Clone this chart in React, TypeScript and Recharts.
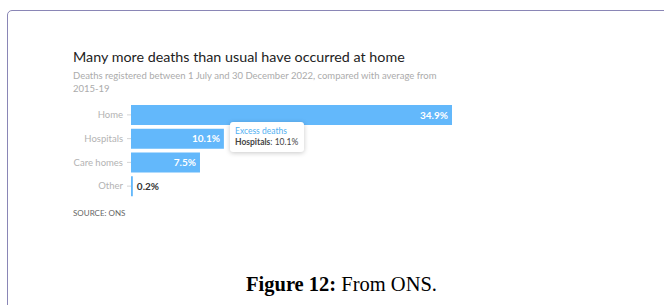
// Exceso de muertes por lugar de fallecimiento (ONS, jul-dic 2022)
import { BarChart, Bar, XAxis, YAxis, Tooltip, LabelList } from "recharts";

const places = ["Home", "Hospitals", "Care homes", "Other"];
const excessPct = [34.9, 10.1, 7.5, 0.2];

const data = places.map((place, i) => ({ place, excess: excessPct[i] }));

const BAR = "#63b8fb";
const FONT = "Lato, 'Open Sans', sans-serif";

// etiqueta: dentro de la barra si cabe, si no fuera
function ValueLabel(props: any) {
  const { x, y, width, height, value } = props;
  const inside = width > 30;
  return (
    <text
      x={inside ? x + width - 4 : x + width + 4}
      y={y + height / 2}
      dy={3.5}
      textAnchor={inside ? "end" : "start"}
      fill={inside ? "#ffffff" : "#333333"}
      fontSize={10}
      fontWeight={700}
      fontFamily={FONT}
    >
      {value}%
    </text>
  );
}

function TipBox({ active, payload, label }: any) {
  if (!active || !payload || !payload.length) return null;
  return (
    <div
      style={{
        background: "#fff",
        boxShadow: "0 1px 5px rgba(0,0,0,0.22)",
        borderRadius: 3,
        padding: "4px 6px 4px 5px",
        fontFamily: FONT,
        fontSize: 8.5,
        lineHeight: "11px",
        whiteSpace: "nowrap",
      }}
    >
      <div style={{ color: "#4fb0f2" }}>Excess deaths</div>
      <div style={{ color: "#444" }}>
        <b>{label}</b>: {payload[0].value}%
      </div>
    </div>
  );
}

export default function App() {
  return (
    <div
      style={{
        position: "absolute",
        left: 0,
        top: 0,
        width: 664,
        height: 305,
        overflow: "hidden",
        background: "#fff",
      }}
    >
      <div
        style={{
          position: "absolute",
          left: 7,
          top: 10,
          width: 720,
          height: 340,
          border: "1.5px solid #8a86b6",
          borderRadius: 5,
        }}
      />
      <div
        style={{
          position: "absolute",
          left: 73,
          top: 48,
          fontFamily: FONT,
          fontSize: 14.3,
          color: "#222",
          whiteSpace: "nowrap",
        }}
      >
        Many more deaths than usual have occurred at home
      </div>
      <div
        style={{
          position: "absolute",
          left: 73,
          top: 69,
          width: 380,
          fontFamily: FONT,
          fontSize: 9.5,
          lineHeight: "13px",
          color: "#ababab",
        }}
      >
        Deaths registered between 1 July and 30 December 2022, compared with average from 2015-19
      </div>
      <div style={{ position: "absolute", left: 0, top: 95 }}>
        <BarChart
          width={664}
          height={115}
          data={data}
          layout="vertical"
          margin={{ top: 8, right: 212, bottom: 12, left: 0 }}
        >
          <XAxis type="number" domain={[0, 34.9]} hide />
          <YAxis
            type="category"
            dataKey="place"
            width={131}
            axisLine={false}
            tickSize={4}
            tickMargin={4}
            tickLine={{ stroke: "#d5d5d5" }}
            tick={{ fill: "#b3b3b3", fontSize: 9.5, fontFamily: FONT }}
          />
          <Tooltip
            content={<TipBox />}
            defaultIndex={1}
            cursor={false}
            position={{ x: 230, y: 27 }}
            isAnimationActive={false}
          />
          <Bar dataKey="excess" fill={BAR} barSize={20} isAnimationActive={false}>
            <LabelList dataKey="excess" content={<ValueLabel />} />
          </Bar>
        </BarChart>
      </div>
      <div
        style={{
          position: "absolute",
          left: 73,
          top: 208,
          fontFamily: FONT,
          fontSize: 8,
          color: "#666",
        }}
      >
        SOURCE: ONS
      </div>
      <div
        style={{
          position: "absolute",
          left: 0,
          width: 683,
          top: 273,
          textAlign: "center",
          fontFamily: "'Liberation Serif', 'Times New Roman', serif",
          fontSize: 20.5,
          color: "#000",
          whiteSpace: "nowrap",
        }}
      >
        <b>Figure 12:</b> From ONS.
      </div>
    </div>
  );
}
